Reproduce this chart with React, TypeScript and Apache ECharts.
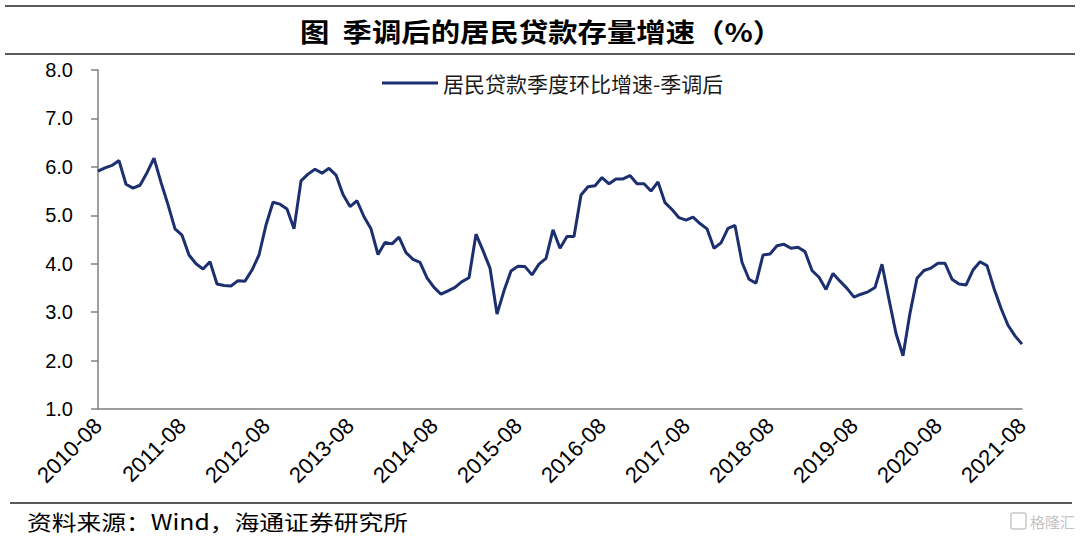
import React, { useEffect, useRef } from "react";
import * as echarts from "echarts";

const startYear = 2010;
const startMonth = 8;
const monthCount = 133;
const categories: string[] = [];
for (let i = 0; i < monthCount; i++) {
  const m = startMonth - 1 + i;
  const y = startYear + Math.floor(m / 12);
  const mm = (m % 12) + 1;
  categories.push(`${y}-${mm < 10 ? "0" + mm : mm}`);
}

const seriesName = "居民贷款季度环比增速-季调后";
const values: number[] = [
  5.91, 5.98, 6.03, 6.13, 5.64, 5.56, 5.62, 5.88, 6.18, 5.68, 5.22, 4.72,
  4.59, 4.18, 4.0, 3.89, 4.04, 3.58, 3.55, 3.54, 3.65, 3.64, 3.87, 4.18,
  4.8, 5.27, 5.23, 5.13, 4.72, 5.71, 5.85, 5.95, 5.87, 5.97, 5.83, 5.43,
  5.18, 5.3, 4.97, 4.72, 4.19, 4.44, 4.41, 4.55, 4.23, 4.09, 4.03, 3.71,
  3.51, 3.37, 3.44, 3.51, 3.63, 3.71, 4.61, 4.27, 3.91, 2.96, 3.44, 3.85,
  3.95, 3.94, 3.77, 3.99, 4.11, 4.7, 4.32, 4.56, 4.56, 5.42, 5.59, 5.61,
  5.78, 5.65, 5.75, 5.75, 5.82, 5.65, 5.65, 5.5, 5.69, 5.26, 5.12, 4.95,
  4.9, 4.96, 4.83, 4.72, 4.32, 4.43, 4.73, 4.79, 4.03, 3.68, 3.6, 4.18,
  4.2, 4.37, 4.4, 4.32, 4.34, 4.25, 3.86, 3.72, 3.47, 3.8, 3.64, 3.49,
  3.31, 3.37, 3.42, 3.51, 3.99, 3.26, 2.56, 2.1, 2.98, 3.7, 3.86, 3.91,
  4.01, 4.01, 3.68, 3.58, 3.56, 3.87, 4.04, 3.96, 3.49, 3.08, 2.73, 2.51,
  2.34,
];

const yMin = 1;
const yMax = 8;
const yInterval = 1;

const titleText = "图  季调后的居民贷款存量增速（%）";
const sourceText = "资料来源：Wind，海通证券研究所";
const watermarkText = "格隆汇";

export default function App() {
  const ref = useRef<HTMLDivElement>(null);
  useEffect(() => {
    if (!ref.current) return;
    const chart = echarts.init(ref.current, undefined, { renderer: "svg" });
    const cjk = "'Noto Sans CJK SC', 'Noto Sans', sans-serif";
    const latin = "'Liberation Sans', Arial, sans-serif";
    chart.setOption({
      animation: false,
      backgroundColor: "#ffffff",
      grid: { left: 98, right: 58, top: 70, bottom: 131, containLabel: false },
      legend: {
        data: [seriesName],
        left: 377,
        top: 67,
        icon: "rect",
        itemWidth: 56,
        itemHeight: 3,
        itemGap: 6,
        textStyle: { fontFamily: cjk, fontSize: 21, color: "#1a1a1a", lineHeight: 22 },
      },
      xAxis: {
        type: "category",
        data: categories,
        boundaryGap: false,
        axisLine: { show: true, lineStyle: { color: "#7f7f7f", width: 1.5 } },
        axisTick: { show: false },
        axisLabel: {
          interval: 11,
          rotate: 45,
          margin: 13,
          fontFamily: latin,
          fontSize: 22,
          color: "#000",
        },
        splitLine: { show: false },
      },
      yAxis: {
        type: "value",
        min: yMin,
        max: yMax,
        interval: yInterval,
        axisLine: { show: true, lineStyle: { color: "#7f7f7f", width: 1.5 } },
        axisTick: { show: true, length: 7, inside: false, lineStyle: { color: "#7f7f7f", width: 1.5 } },
        axisLabel: {
          margin: 25,
          fontFamily: latin,
          fontSize: 20,
          color: "#000",
          formatter: (v: number) => v.toFixed(1),
        },
        splitLine: { show: false },
      },
      series: [
        {
          name: seriesName,
          type: "line",
          data: values,
          symbol: "none",
          lineStyle: { color: "#1c2f6e", width: 3 },
          itemStyle: { color: "#1c2f6e" },
        },
      ],
      graphic: [
        { type: "line", shape: { x1: 5, y1: 6, x2: 1075, y2: 6 }, style: { stroke: "#5a5a5a", lineWidth: 2 } },
        { type: "line", shape: { x1: 5, y1: 54, x2: 1075, y2: 54 }, style: { stroke: "#5a5a5a", lineWidth: 2 } },
        { type: "line", shape: { x1: 10, y1: 503, x2: 1072, y2: 503 }, style: { stroke: "#5a5a5a", lineWidth: 2 } },
        {
          type: "text",
          x: 541,
          y: 31,
          scaleX: 1.13,
          style: {
            text: titleText,
            fontFamily: cjk,
            fontSize: 26,
            fontWeight: "bold",
            fill: "#000",
            textAlign: "center",
            textVerticalAlign: "middle",
          },
        },
        {
          type: "text",
          x: 27,
          y: 521,
          scaleX: 1.18,
          style: {
            text: sourceText,
            fontFamily: cjk,
            fontSize: 21,
            fill: "#000",
            textAlign: "left",
            textVerticalAlign: "middle",
          },
        },
        {
          type: "rect",
          shape: { x: 1011, y: 513, width: 15, height: 16, r: 2 },
          style: { fill: "none", stroke: "#c8c8c8", lineWidth: 1.5 },
        },
        {
          type: "text",
          x: 1030,
          y: 521,
          style: {
            text: watermarkText,
            fontFamily: cjk,
            fontSize: 15,
            fill: "#c4c4c4",
            textAlign: "left",
            textVerticalAlign: "middle",
          },
        },
      ],
    });
    return () => chart.dispose();
  }, []);
  return (
    <div
      ref={ref}
      style={{ position: "absolute", left: 0, top: 0, width: 1080, height: 540 }}
    />
  );
}
